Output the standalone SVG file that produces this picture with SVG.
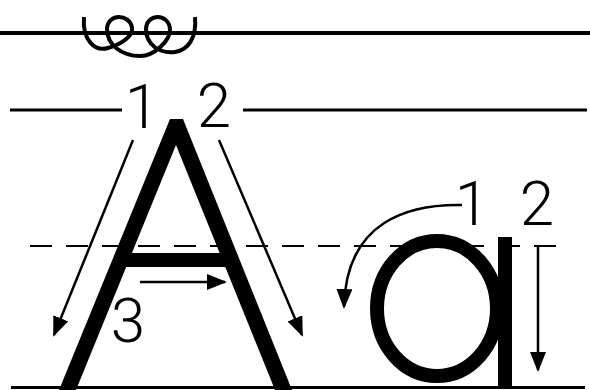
<svg xmlns="http://www.w3.org/2000/svg" width="590" height="390" viewBox="0 0 590 390">
<style>
.rule{stroke:#000;fill:none}
.arr{stroke:#000;stroke-width:2.5;fill:none;marker-end:url(#ah)}
.num{font-family:Roboto,"Liberation Sans",sans-serif;font-weight:300;font-size:62px;fill:#000;text-anchor:middle}
.glyph{fill:#000}
</style>
<defs>
<marker id="ah" markerUnits="userSpaceOnUse" markerWidth="22" markerHeight="18" refX="18" refY="8" orient="auto" viewBox="0 0 22 18">
<path d="M0,0 L20,8 L0,16 z" fill="#000"/>
</marker>
</defs>
<rect width="590" height="390" fill="#fff"/>
<g id="rules">
<line class="rule" x1="0" y1="33" x2="590" y2="33" stroke-width="4"/>
<line class="rule" x1="10" y1="110" x2="122" y2="110" stroke-width="3"/>
<line class="rule" x1="243" y1="110" x2="587" y2="110" stroke-width="3"/>
<line class="rule" x1="30" y1="246" x2="564" y2="246" stroke-width="2" stroke-dasharray="22 14"/>
<line class="rule" x1="11" y1="387.5" x2="585" y2="387.5" stroke-width="3"/>
</g>
<g id="coil">
<path class="rule" stroke-width="4" d="M84,17 C82,40 95,52 108,48 C122,44 133,36 132,28 C131,20 124,17 119,17 C112,17 107,22 107,29 C107,45 122,56 140,56 C155,56 170,40 170,30 C170,21 163,17 158,17 C151,17 146,22 146,29 C146,45 160,54 175,52 C188,50 197,38 195,17"/>
</g>
<g id="letter-A">
<rect class="glyph" x="122" y="253" width="108" height="14"/>
<polygon class="glyph" points="59,390 170,119 183,119 292,390 275,390 176,145 76,390"/>
</g>
<g id="letter-a">
<ellipse cx="437" cy="308.5" rx="60" ry="67.5" fill="none" stroke="#000" stroke-width="14"/>
<rect class="glyph" x="498" y="237" width="14" height="149"/>
</g>
<g id="connectors">
<line class="arr" x1="133" y1="140" x2="54" y2="335"/>
<line class="arr" x1="219" y1="140" x2="302" y2="335"/>
<line class="arr" x1="140" y1="282" x2="225" y2="282"/>
<path class="arr" d="M462,205 C410,204 346,220 344,307"/>
<line class="arr" x1="538" y1="247" x2="538" y2="370"/>
</g>
<g id="labels">
<text class="num" x="142" y="128">1</text>
<text class="num" x="214" y="127">2</text>
<text class="num" x="128" y="342">3</text>
<text class="num" x="472" y="225">1</text>
<text class="num" x="537" y="225">2</text>
</g>
</svg>
